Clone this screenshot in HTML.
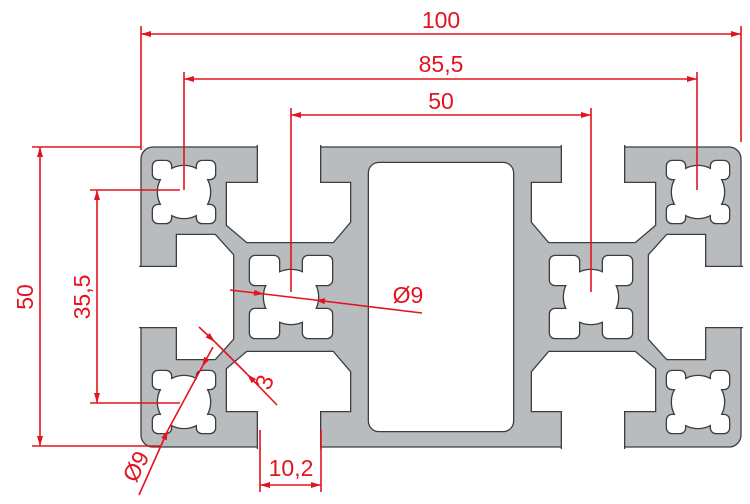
<!DOCTYPE html>
<html><head><meta charset="utf-8"><style>
html,body{margin:0;padding:0;background:#fff;}
svg{display:block;}
text{font-family:"Liberation Sans",sans-serif;fill:#e3141f;font-size:23px;}
</style></head><body>
<svg width="750" height="504" viewBox="0 0 750 504" xmlns="http://www.w3.org/2000/svg">
<defs>
<marker id="ar" viewBox="0 0 10 6" refX="10" refY="3" markerWidth="14" markerHeight="6" markerUnits="userSpaceOnUse" orient="auto-start-reverse">
<path d="M0,0 L10,3 L0,6 Z" fill="#e3141f"/>
</marker>
<g id="hole">
<circle cx="0" cy="0" r="26"/>
<rect x="-31" y="-31" width="18" height="18" rx="5"/>
<rect x="13" y="-31" width="18" height="18" rx="5"/>
<rect x="-31" y="13" width="18" height="18" rx="5"/>
<rect x="13" y="13" width="18" height="18" rx="5"/>
</g>
<g id="node">
<circle cx="0" cy="0" r="27"/>
<rect x="-41" y="-41" width="29" height="29" rx="5"/>
<rect x="12" y="-41" width="29" height="29" rx="5"/>
<rect x="-41" y="12" width="29" height="29" rx="5"/>
<rect x="12" y="12" width="29" height="29" rx="5"/>
</g>
<g id="half">
<path d="M258,145 L258,183 L227,183 L227,225 L247,242 L333,242 L350,222 L350,183 L320,183 L320,145"/>
<path d="M258,449 L258,411 L227,411 L227,369 L247,352 L333,352 L350,372 L350,411 L320,411 L320,449"/>
<path d="M139,267 L177,267 L177,235 L215,235 L233,255 L233,339 L215,359 L177,359 L177,327 L139,327"/>
<use href="#hole" x="184" y="192"/>
<use href="#hole" x="184" y="402"/>
<use href="#node" x="291" y="297"/>
</g>
<g id="all">
<use href="#half"/>
<use href="#half" transform="matrix(-1 0 0 1 882 0)"/>
<rect x="369" y="163" width="144" height="268" rx="10"/>
</g>
</defs>

<rect x="141" y="147" width="600" height="300" rx="12" fill="#b9bcbf" stroke="#3d3d3d" stroke-width="1.3"/>
<use href="#all" fill="#fff" stroke="#3d3d3d" stroke-width="2.6"/>
<use href="#all" fill="#fff" stroke="none"/>

<g stroke="#e3141f" stroke-width="1.6" fill="none">
<line x1="141" y1="26" x2="141" y2="150"/>
<line x1="741" y1="26" x2="741" y2="142"/>
<line x1="141" y1="34" x2="741" y2="34" marker-start="url(#ar)" marker-end="url(#ar)"/>
<line x1="184" y1="72" x2="184" y2="190"/>
<line x1="697" y1="72" x2="697" y2="190"/>
<line x1="184" y1="79" x2="697" y2="79" marker-start="url(#ar)" marker-end="url(#ar)"/>
<line x1="291" y1="108" x2="291" y2="292"/>
<line x1="591" y1="108" x2="591" y2="292"/>
<line x1="291" y1="115" x2="591" y2="115" marker-start="url(#ar)" marker-end="url(#ar)"/>
<line x1="32" y1="147" x2="141" y2="147"/>
<line x1="32" y1="446" x2="160" y2="446"/>
<line x1="40" y1="147" x2="40" y2="446" marker-start="url(#ar)" marker-end="url(#ar)"/>
<line x1="90" y1="190" x2="180" y2="190"/>
<line x1="90" y1="403" x2="180" y2="403"/>
<line x1="97" y1="190" x2="97" y2="403" marker-start="url(#ar)" marker-end="url(#ar)"/>
<line x1="230" y1="290" x2="264" y2="294" marker-end="url(#ar)"/>
<line x1="264" y1="294" x2="315" y2="300"/>
<line x1="422" y1="313" x2="315" y2="300" marker-end="url(#ar)"/>
<line x1="139" y1="495" x2="168" y2="430" marker-end="url(#ar)"/>
<line x1="168" y1="430" x2="202" y2="367"/>
<line x1="213" y1="347" x2="202" y2="367" marker-end="url(#ar)"/>
<line x1="199" y1="327" x2="215" y2="342" marker-end="url(#ar)"/>
<line x1="215" y1="342" x2="247" y2="374"/>
<line x1="277" y1="405" x2="247" y2="374" marker-end="url(#ar)"/>
<line x1="260" y1="430" x2="260" y2="492"/>
<line x1="321" y1="430" x2="321" y2="492"/>
<line x1="260" y1="485" x2="321" y2="485" marker-start="url(#ar)" marker-end="url(#ar)"/>
</g>

<text x="441" y="28" text-anchor="middle">100</text>
<text x="441" y="72" text-anchor="middle">85,5</text>
<text x="441" y="109" text-anchor="middle">50</text>
<text transform="translate(33,297) rotate(-90)" text-anchor="middle">50</text>
<text transform="translate(90,297) rotate(-90)" text-anchor="middle">35,5</text>
<text x="408" y="303" text-anchor="middle">Ø9</text>
<text transform="translate(143,470) rotate(-63)" text-anchor="middle">Ø9</text>
<text transform="translate(272,385) rotate(-70)" text-anchor="middle" style="font-size:24px">3</text>
<text x="291" y="476" text-anchor="middle">10,2</text>
</svg>
</body></html>
